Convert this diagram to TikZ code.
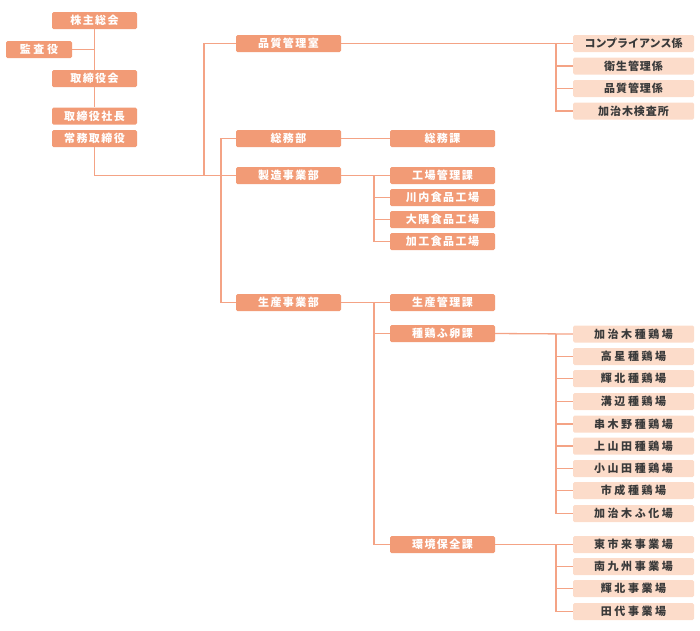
\documentclass[tikz,border=0pt]{standalone}
\usepackage{fontspec}
\newfontfamily\jp{Noto Sans CJK JP}[LetterSpace=13]
\newfontfamily\jpwide{Noto Sans CJK JP}[LetterSpace=23]
\newfontfamily\jpmid{Noto Sans CJK JP}[LetterSpace=9]
\newfontfamily\jptight{Noto Sans CJK JP}[LetterSpace=0]
\definecolor{dark}{HTML}{F29B76}
\definecolor{light}{HTML}{FCDCCA}
\definecolor{conn}{HTML}{F4A385}
\definecolor{txt}{HTML}{3A3A3A}
\tikzset{
  dbox/.style={fill=dark, rounded corners=1.5pt, minimum height=17pt, inner sep=0pt, text=white, font=\jp\bfseries\fontsize{11pt}{12pt}\selectfont},
  lbox/.style={fill=light, rounded corners=1.5pt, minimum height=17pt, minimum width=121pt, inner sep=0pt, text=txt, font=\jpwide\bfseries\fontsize{11pt}{12pt}\selectfont},
  lwide/.style={font=\jpwide\bfseries\fontsize{11pt}{12pt}\selectfont},
  lmid/.style={font=\jpmid\bfseries\fontsize{11pt}{12pt}\selectfont},
  ltight/.style={font=\jptight\bfseries\fontsize{11pt}{12pt}\selectfont},
  wa/.style={minimum width=85pt},
  wb/.style={minimum width=105pt},
  ln/.style={draw=conn, line width=1.3pt}
}
\begin{document}
\begin{tikzpicture}[x=1pt,y=-1pt]
\useasboundingbox (0,0) rectangle (700,630);
% left column
\node[dbox,wa] (kabu) at (94.5,20.5) {株主総会};
\node[dbox,lwide,minimum width=66pt] (kansa) at (39,49.5) {監査役};
\node[dbox,wa] (tori) at (94.5,78.5) {取締役会};
\node[dbox,wa] (shacho) at (94.5,116) {取締役社長};
\node[dbox,wa] (jomu) at (94.5,138.5) {常務取締役};
% second column
\node[dbox,wb] (hinshitsu) at (288.5,43.5) {品質管理室};
\node[dbox,wb] (soumubu) at (288.5,138.5) {総務部};
\node[dbox,wb] (seizo) at (288.5,175.5) {製造事業部};
\node[dbox,wb] (seisan) at (288.5,302.5) {生産事業部};
% third column
\node[dbox,wb] (soumuka) at (442.5,138.5) {総務課};
\node[dbox,wb] (kojo) at (442.5,175.5) {工場管理課};
\node[dbox,wb] (sendai) at (442.5,197.5) {川内食品工場};
\node[dbox,wb] (osumi) at (442.5,219.5) {大隅食品工場};
\node[dbox,wb] (kako) at (442.5,241.5) {加工食品工場};
\node[dbox,wb] (seikan) at (442.5,302.5) {生産管理課};
\node[dbox,wb] (shukei) at (442.5,333.5) {種鶏ふ卵課};
\node[dbox,wb] (kankyo) at (442.5,544.5) {環境保全課};
% fourth column
\node[lbox,ltight] (comp) at (633.5,43.5) {コンプライアンス係};
\node[lbox,lmid] (eisei) at (633.5,66) {衛生管理係};
\node[lbox,lmid] (hinkan) at (633.5,88.5) {品質管理係};
\node[lbox,lmid] (kensa) at (633.5,111) {加治木検査所};
\node[lbox] (s1) at (633.5,334) {加治木種鶏場};
\node[lbox] (s2) at (633.5,356.5) {高星種鶏場};
\node[lbox] (s3) at (633.5,378.5) {輝北種鶏場};
\node[lbox] (s4) at (633.5,401.5) {溝辺種鶏場};
\node[lbox] (s5) at (633.5,424) {串木野種鶏場};
\node[lbox] (s6) at (633.5,446) {上山田種鶏場};
\node[lbox] (s7) at (633.5,468.5) {小山田種鶏場};
\node[lbox] (s8) at (633.5,490.5) {市成種鶏場};
\node[lbox] (s9) at (633.5,513.5) {加治木ふ化場};
\node[lbox] (k1) at (633.5,544.5) {東市来事業場};
\node[lbox] (k2) at (633.5,566.5) {南九州事業場};
\node[lbox] (k3) at (633.5,588.5) {輝北事業場};
\node[lbox] (k4) at (633.5,611.5) {田代事業場};
% connectors
\draw[ln] (kabu.south) -- (tori.north);
\draw[ln] (tori.south) -- (shacho.north);
\draw[ln] (kansa.east) -- (kansa.east -| kabu.south);
\draw[ln] (jomu.south) |- (seizo.west);
\coordinate (j1) at (204,175.5);
\draw[ln] (j1) |- (hinshitsu.west);
\coordinate (j2) at (221,138.5);
\draw[ln] (soumubu.west) -- (j2) |- (seisan.west);
\draw[ln] (soumubu.east) -- (soumuka.west);
\draw[ln] (seizo.east) -- (kojo.west);
\coordinate (v1) at (374,175.5);
\draw[ln] (v1) |- (kako.west);
\draw[ln] (v1 |- sendai.west) -- (sendai.west);
\draw[ln] (v1 |- osumi.west) -- (osumi.west);
\draw[ln] (seisan.east) -- (seikan.west);
\coordinate (v2) at (374,302.5);
\draw[ln] (v2) |- (kankyo.west);
\draw[ln] (v2 |- shukei.west) -- (shukei.west);
% QA branch
\draw[ln] (hinshitsu.east) -- (comp.west);
\coordinate (v3) at (556,43.5);
\draw[ln] (v3) |- (kensa.west);
\foreach \n in {eisei,hinkan} \draw[ln] (v3 |- \n.west) -- (\n.west);
% breeding branch
\draw[ln] (shukei.east) -- (s1.west);
\coordinate (v4) at (556,334);
\draw[ln] (v4) |- (s9.west);
\foreach \n in {s2,s3,s4,s5,s6,s7,s8} \draw[ln] (v4 |- \n.west) -- (\n.west);
% environment branch
\draw[ln] (kankyo.east) -- (k1.west);
\coordinate (v5) at (556,544.5);
\draw[ln] (v5) |- (k4.west);
\foreach \n in {k2,k3} \draw[ln] (v5 |- \n.west) -- (\n.west);
\end{tikzpicture}
\end{document}
